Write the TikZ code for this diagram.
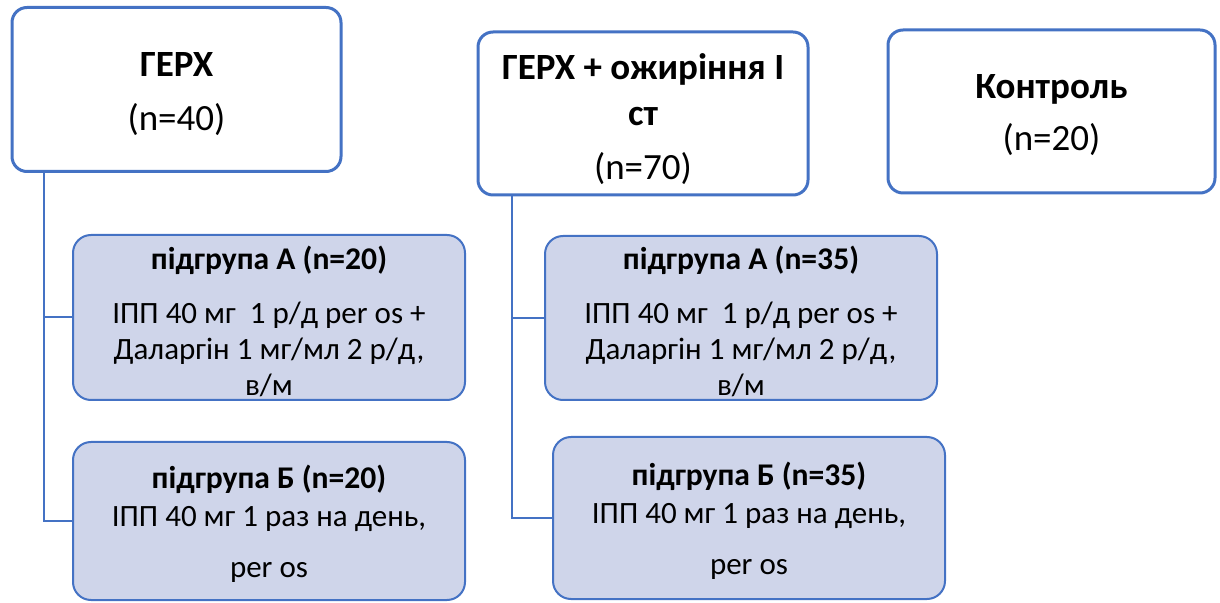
\documentclass[tikz,border=0pt]{standalone}
\usepackage{fontspec}
\setmainfont{Carlito}
\usetikzlibrary{positioning}
\definecolor{boxblue}{RGB}{68,114,196}
\definecolor{subfill}{RGB}{207,213,234}
\newcommand{\subtitle}[1]{{\fontsize{15.8}{18}\selectfont\bfseries #1}}
\newcommand{\headroom}[1]{\rule{0pt}{#1}}
\tikzset{
  groupbox/.style={draw=boxblue, line width=1.5pt, rounded corners=7.5pt, fill=white,
    align=center, minimum width=164.5pt, minimum height=82pt,
    font=\fontsize{18.5}{21}\selectfont},
  subbox/.style={draw=boxblue, line width=1pt, rounded corners=9pt, fill=subfill,
    align=center, minimum width=196pt, inner ysep=0pt, font=\fontsize{15.5}{18}\selectfont},
  link/.style={draw=boxblue, line width=1pt}
}
\begin{document}
\begin{tikzpicture}[x=0.5pt, y=-0.5pt]
		\useasboundingbox (0,0) rectangle (1220,603);
		
		% Main groups
		\node[groupbox] (gerx) at (176.5,89.5) {\headroom{16.7pt}\textbf{ГЕРХ}\\[6pt](n=40)};
		\node[groupbox, minimum width=165pt, minimum height=81.5pt] (obes) at (643,113.5) {\headroom{19pt}\textbf{ГЕРХ + ожиріння І}\\[2pt]\textbf{ст}\\[6pt](n=70)};
		\node[groupbox, minimum width=163.5pt, minimum height=81.5pt] (ctrl) at (1051.5,111.5) {\headroom{15.7pt}\textbf{Контроль}\\[5pt](n=20)};
		
		% Subgroups
		\node[subbox, minimum height=82.5pt] (subAl) at (269,317.5) {\headroom{15.5pt}\subtitle{підгрупа А (n=20)}\\[9pt]ІПП 40 мг\ \ 1 р/д per os +\\Даларгін 1 мг/мл 2 р/д,\\в/м};
		\node[subbox, minimum height=79pt] (subBl) at (269,521) {\headroom{14.5pt}\subtitle{підгрупа Б (n=20)}\\[1pt]ІПП 40 мг 1 раз на день,\\[7.5pt]per os};
		\node[subbox, minimum height=82pt] (subAr) at (741,318) {\headroom{15.5pt}\subtitle{підгрупа А (n=35)}\\[9pt]ІПП 40 мг\ \ 1 р/д per os +\\Даларгін 1 мг/мл 2 р/д,\\в/м};
		\node[subbox, minimum height=81pt] (subBr) at (749,518) {\headroom{14.5pt}\subtitle{підгрупа Б (n=35)}\\[1pt]ІПП 40 мг 1 раз на день,\\[7.5pt]per os};
		
		% Connectors
		\coordinate (jl) at ([xshift=16.5pt]gerx.south west);
		\coordinate (jr) at ([xshift=17.5pt]obes.south west);
		\draw[link] (jl) |- (subBl.west);
		\draw[link] (subAl.west) -- (subAl.west -| jl);
		\draw[link] (jr) |- (subBr.west);
		\draw[link] (subAr.west) -- (subAr.west -| jr);
	\end{tikzpicture}
\end{document}
